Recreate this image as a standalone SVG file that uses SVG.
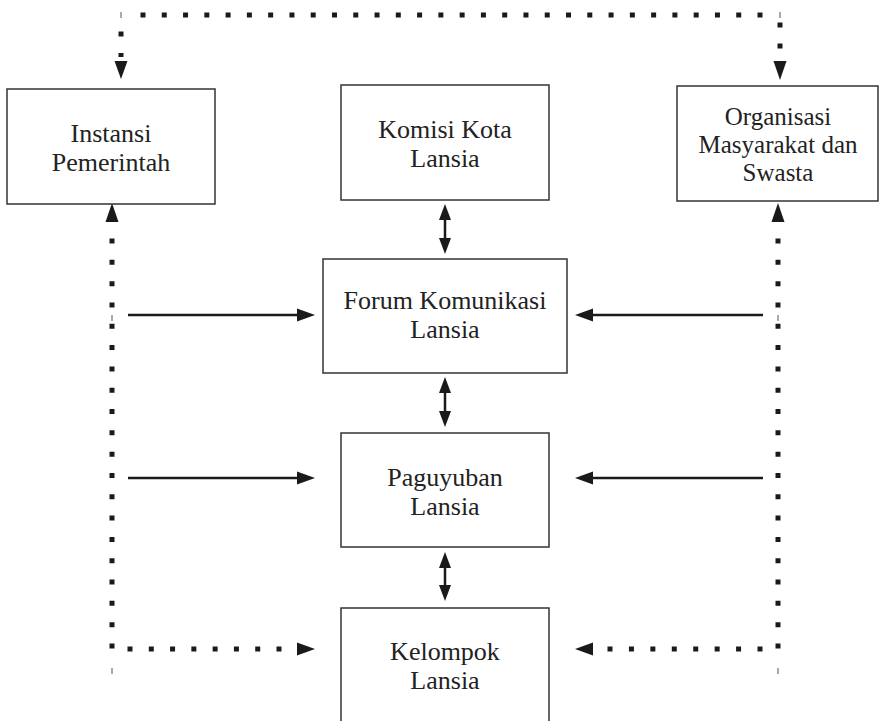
<svg xmlns="http://www.w3.org/2000/svg" width="879" height="721" viewBox="0 0 879 721">
  <style>
    .box { fill: #fff; stroke: #333; stroke-width: 1.5; }
    .lbl { font-family: "Liberation Serif", "Times New Roman", serif; font-size: 26px; fill: #222; text-anchor: middle; }
    .sm { font-size: 25px; }
    .solid { stroke: #1a1a1a; stroke-width: 2.5; fill: none; }
    .dot { stroke: #1a1a1a; stroke-width: 5; fill: none; }
    .tick { stroke: #555; stroke-width: 1; fill: none; }
    .head { fill: #1a1a1a; }
  </style>
  <rect width="879" height="721" fill="#fff"/>

  <g id="connectors">
    <!-- top dotted frame -->
    <line class="dot" x1="140.5" y1="15" x2="762.5" y2="15" stroke-dasharray="5 16.276"/>
    <line class="tick" x1="121" y1="12" x2="121" y2="18"/>
    <line class="tick" x1="780" y1="12" x2="780" y2="18"/>
    <line class="dot" x1="121" y1="31.5" x2="121" y2="36.5"/>
    <line class="dot" x1="121" y1="53" x2="121" y2="57"/>
    <polygon class="head" points="114.5,61 127.5,61 121,79"/>
    <line class="dot" x1="780" y1="22.5" x2="780" y2="27.5"/>
    <line class="dot" x1="780" y1="43.5" x2="780" y2="48.5"/>
    <polygon class="head" points="773.5,61 786.5,61 780,80"/>

    <!-- left dotted vertical -->
    <polygon class="head" points="112,203 105.5,222 118.5,222"/>
    <line class="dot" x1="112" y1="238.5" x2="112" y2="648.5" stroke-dasharray="5 16.316"/>
    <line class="tick" x1="112" y1="315" x2="112" y2="321"/>
    <line class="tick" x1="112" y1="668" x2="112" y2="674"/>
    <line class="dot" x1="127.5" y1="649" x2="281.5" y2="649" stroke-dasharray="5 16.286"/>
    <polygon class="head" points="297,642.5 297,655.5 315,649"/>

    <!-- right dotted vertical -->
    <polygon class="head" points="778,203 771.5,222 784.5,222"/>
    <line class="dot" x1="778" y1="238.5" x2="778" y2="648.5" stroke-dasharray="5 16.316"/>
    <line class="tick" x1="778" y1="315" x2="778" y2="321"/>
    <line class="tick" x1="778" y1="668" x2="778" y2="674"/>
    <line class="dot" x1="607.5" y1="649" x2="762.5" y2="649" stroke-dasharray="5 16.43"/>
    <polygon class="head" points="593,642.5 593,655.5 575,649"/>

    <!-- solid horizontal arrows -->
    <line class="solid" x1="128" y1="315" x2="298" y2="315"/>
    <polygon class="head" points="297,308.5 297,321.5 315,315"/>
    <line class="solid" x1="128" y1="478" x2="298" y2="478"/>
    <polygon class="head" points="297,471.5 297,484.5 315,478"/>
    <line class="solid" x1="763" y1="315" x2="592" y2="315"/>
    <polygon class="head" points="593,308.5 593,321.5 575,315"/>
    <line class="solid" x1="763" y1="478" x2="592" y2="478"/>
    <polygon class="head" points="593,471.5 593,484.5 575,478"/>

    <!-- vertical double arrows -->
    <line class="solid" x1="445" y1="218" x2="445" y2="240"/>
    <polygon class="head" points="445,204 439,220 451,220"/>
    <polygon class="head" points="445,254 439,238 451,238"/>
    <line class="solid" x1="445" y1="391" x2="445" y2="413"/>
    <polygon class="head" points="445,377 439,393 451,393"/>
    <polygon class="head" points="445,427 439,411 451,411"/>
    <line class="solid" x1="445" y1="566" x2="445" y2="587"/>
    <polygon class="head" points="445,552 439,568 451,568"/>
    <polygon class="head" points="445,601 439,585 451,585"/>
  </g>

  <g id="instansi">
    <rect class="box" x="7" y="89" width="208" height="115"/>
    <text class="lbl" x="111" y="142">Instansi</text>
    <text class="lbl" x="111" y="171">Pemerintah</text>
  </g>
  <g id="komisi">
    <rect class="box" x="341" y="85" width="208" height="115"/>
    <text class="lbl" x="445" y="138">Komisi Kota</text>
    <text class="lbl" x="445" y="167">Lansia</text>
  </g>
  <g id="organisasi">
    <rect class="box" x="677" y="86" width="201" height="115"/>
    <text class="lbl sm" x="778" y="125">Organisasi</text>
    <text class="lbl sm" x="778" y="153">Masyarakat dan</text>
    <text class="lbl sm" x="778" y="181">Swasta</text>
  </g>
  <g id="forum">
    <rect class="box" x="323" y="259" width="244" height="114"/>
    <text class="lbl" x="445" y="309">Forum Komunikasi</text>
    <text class="lbl" x="445" y="338">Lansia</text>
  </g>
  <g id="paguyuban">
    <rect class="box" x="341" y="433" width="208" height="114"/>
    <text class="lbl" x="445" y="486">Paguyuban</text>
    <text class="lbl" x="445" y="515">Lansia</text>
  </g>
  <g id="kelompok">
    <rect class="box" x="341" y="608" width="208" height="120"/>
    <text class="lbl" x="445" y="660">Kelompok</text>
    <text class="lbl" x="445" y="689">Lansia</text>
  </g>
</svg>
